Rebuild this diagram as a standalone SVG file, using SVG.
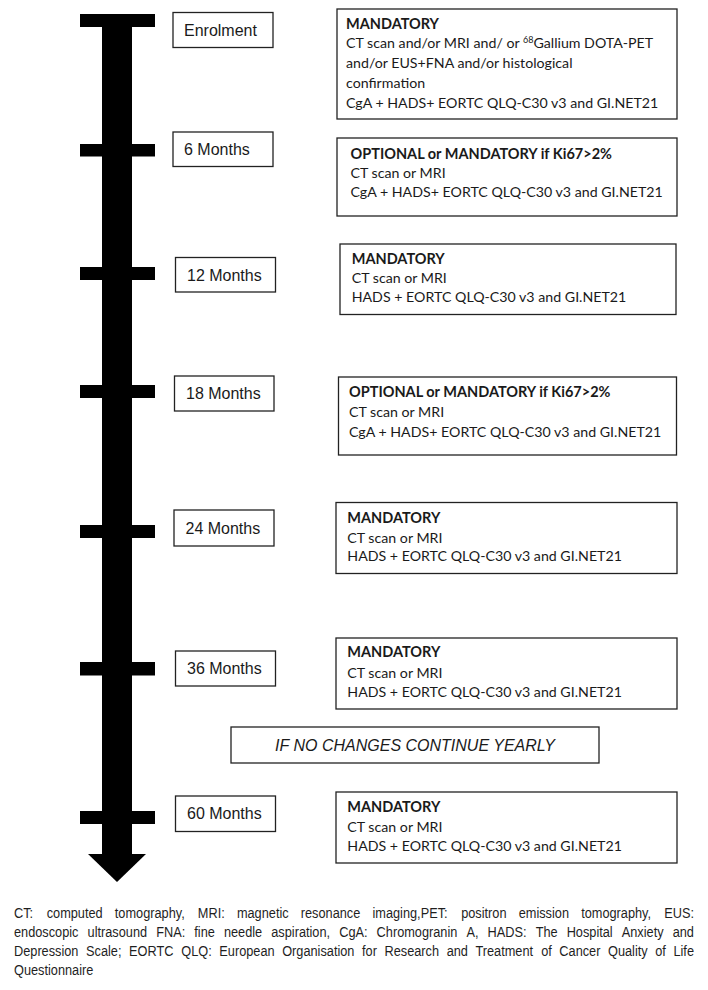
<svg xmlns="http://www.w3.org/2000/svg" width="708" height="990" viewBox="0 0 708 990">
<style>
.box{fill:#fff;stroke:#222;stroke-width:1.3}
.lbl{font-family:"Liberation Sans",Arial,sans-serif;font-size:16px;fill:#1a1a1a}
.det{font-family:Lato,"Open Sans",sans-serif;font-size:14.2px;fill:#1a1a1a}
.b{font-weight:bold;font-size:14.5px}
.sup{font-size:9px}
.note{font-family:"Liberation Sans",Arial,sans-serif;font-size:16px;font-style:italic;fill:#1a1a1a}
.foot{font-family:"Liberation Sans",Arial,sans-serif;font-size:14.5px;fill:#1f1f1f}
.bar{fill:#000}
</style>
<rect width="708" height="990" fill="#fff"/>

<g id="connectors">
  <rect class="bar" x="102" y="14" width="30" height="841"/>
  <polygon class="bar" points="88,854 146,854 117,882"/>
  <rect class="bar" x="80" y="14" width="75" height="13"/>
  <rect class="bar" x="80" y="144" width="75" height="12.5"/>
  <rect class="bar" x="80" y="267" width="75" height="13"/>
  <rect class="bar" x="80" y="385" width="75" height="13"/>
  <rect class="bar" x="80" y="525" width="75" height="13"/>
  <rect class="bar" x="80" y="662" width="75" height="13.5"/>
  <rect class="bar" x="80" y="811" width="75" height="13"/>
</g>

<g id="enrolment">
  <rect class="box" x="173" y="12.5" width="100" height="35"/>
  <text class="lbl" x="184" y="36">Enrolment</text>
</g>
<g id="m6">
  <rect class="box" x="173" y="132" width="100" height="34.5"/>
  <text class="lbl" x="184" y="155.3">6 Months</text>
</g>
<g id="m12">
  <rect class="box" x="175.5" y="257.5" width="100" height="34.5"/>
  <text class="lbl" x="187" y="280.5">12 Months</text>
</g>
<g id="m18">
  <rect class="box" x="174.5" y="376" width="99.5" height="35"/>
  <text class="lbl" x="186" y="399">18 Months</text>
</g>
<g id="m24">
  <rect class="box" x="174" y="510" width="100" height="36"/>
  <text class="lbl" x="185.5" y="533.5">24 Months</text>
</g>
<g id="m36">
  <rect class="box" x="175.5" y="651" width="100" height="35"/>
  <text class="lbl" x="187" y="674">36 Months</text>
</g>
<g id="m60">
  <rect class="box" x="175.5" y="796" width="100" height="35.5"/>
  <text class="lbl" x="187" y="819.3">60 Months</text>
</g>

<g id="d-enrolment">
  <rect class="box" x="337" y="9" width="340" height="110"/>
  <text class="det" x="346">
    <tspan class="b" x="346" y="28.5">MANDATORY</tspan>
    <tspan x="346" y="48.3">CT scan and/or MRI and/ or <tspan class="sup" dy="-5">68</tspan><tspan dy="5">Gallium DOTA-PET</tspan></tspan>
    <tspan x="346" y="68">and/or EUS+FNA and/or histological</tspan>
    <tspan x="346" y="87.8">confirmation</tspan>
    <tspan x="346" y="107.6">CgA + HADS+ EORTC QLQ-C30 v3 and GI.NET21</tspan>
  </text>
</g>
<g id="d-m6">
  <rect class="box" x="337" y="138" width="340" height="78"/>
  <text class="det">
    <tspan class="b" x="350.5" y="158.7">OPTIONAL or MANDATORY if Ki67&gt;2%</tspan>
    <tspan x="350.5" y="178">CT scan or MRI</tspan>
    <tspan x="350.5" y="197.3">CgA + HADS+ EORTC QLQ-C30 v3 and GI.NET21</tspan>
  </text>
</g>
<g id="d-m12">
  <rect class="box" x="340" y="244" width="336" height="70.5"/>
  <text class="det">
    <tspan class="b" x="351.7" y="264">MANDATORY</tspan>
    <tspan x="351.7" y="283.3">CT scan or MRI</tspan>
    <tspan x="351.7" y="302.3">HADS + EORTC QLQ-C30 v3 and GI.NET21</tspan>
  </text>
</g>
<g id="d-m18">
  <rect class="box" x="338.5" y="377" width="338" height="78"/>
  <text class="det">
    <tspan class="b" x="349" y="397.3">OPTIONAL or MANDATORY if Ki67&gt;2%</tspan>
    <tspan x="349" y="417.3">CT scan or MRI</tspan>
    <tspan x="349" y="436.7">CgA + HADS+ EORTC QLQ-C30 v3 and GI.NET21</tspan>
  </text>
</g>
<g id="d-m24">
  <rect class="box" x="336" y="502.5" width="341" height="71"/>
  <text class="det">
    <tspan class="b" x="347.3" y="522.7">MANDATORY</tspan>
    <tspan x="347.3" y="542.7">CT scan or MRI</tspan>
    <tspan x="347.3" y="561.3">HADS + EORTC QLQ-C30 v3 and GI.NET21</tspan>
  </text>
</g>
<g id="d-m36">
  <rect class="box" x="336" y="638" width="341" height="71"/>
  <text class="det">
    <tspan class="b" x="347.3" y="657.3">MANDATORY</tspan>
    <tspan x="347.3" y="677.7">CT scan or MRI</tspan>
    <tspan x="347.3" y="696.7">HADS + EORTC QLQ-C30 v3 and GI.NET21</tspan>
  </text>
</g>
<g id="note-yearly">
  <rect class="box" x="231" y="727" width="368" height="36"/>
  <text class="note" x="415" y="750.5" text-anchor="middle">IF NO CHANGES CONTINUE YEARLY</text>
</g>
<g id="d-m60">
  <rect class="box" x="336" y="792" width="341" height="71"/>
  <text class="det">
    <tspan class="b" x="347.3" y="811.7">MANDATORY</tspan>
    <tspan x="347.3" y="831.7">CT scan or MRI</tspan>
    <tspan x="347.3" y="850.7">HADS + EORTC QLQ-C30 v3 and GI.NET21</tspan>
  </text>
</g>

<g id="footnote" transform="scale(0.88,1)">
  <text class="foot" y="918">
    <tspan x="15.91">CT:</tspan><tspan x="53.04">computed</tspan><tspan x="130.48">tomography,</tspan><tspan x="224.84">MRI:</tspan><tspan x="269.22">magnetic</tspan><tspan x="341.82">resonance</tspan><tspan x="423.29">imaging,PET:</tspan><tspan x="524.09">positron</tspan><tspan x="589.44">emission</tspan><tspan x="660.41">tomography,</tspan><tspan x="754.77">EUS:</tspan>
  </text>
  <text class="foot" y="937">
    <tspan x="15.91">endoscopic</tspan><tspan x="99.53">ultrasound</tspan><tspan x="177.51">FNA:</tspan><tspan x="220.82">fine</tspan><tspan x="254.47">needle</tspan><tspan x="308.28">aspiration,</tspan><tspan x="385.45">CgA:</tspan><tspan x="427.96">Chromogranin</tspan><tspan x="530.10">A,</tspan><tspan x="554.08">HADS:</tspan><tspan x="608.67">The</tspan><tspan x="643.93">Hospital</tspan><tspan x="706.58">Anxiety</tspan><tspan x="764.41">and</tspan>
  </text>
  <text class="foot" y="956">
    <tspan x="15.91">Depression</tspan><tspan x="97.81">Scale;</tspan><tspan x="146.68">EORTC</tspan><tspan x="206.00">QLQ:</tspan><tspan x="249.23">European</tspan><tspan x="320.67">Organisation</tspan><tspan x="411.44">for</tspan><tspan x="436.93">Research</tspan><tspan x="507.55">and</tspan><tspan x="540.31">Treatment</tspan><tspan x="614.96">of</tspan><tspan x="635.62">Cancer</tspan><tspan x="690.92">Quality</tspan><tspan x="744.61">of</tspan><tspan x="765.27">Life</tspan>
  </text>
  <text class="foot" y="975">
    <tspan x="15.91">Questionnaire</tspan>
  </text>
</g>
</svg>
